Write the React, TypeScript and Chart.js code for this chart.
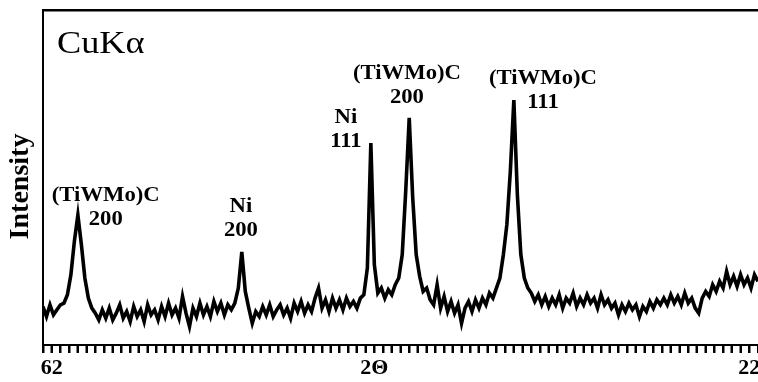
import React, { useEffect, useRef } from 'react';
import { Chart, registerables } from 'chart.js';

Chart.register(...registerables);

// 2θ axis (degrees), drawn high → low
const twoThetaMax = 62.5;
const twoThetaMin = 21.5;
const twoThetaStep = 0.2;
const xTickStep = 0.5;
const xTickValues = [62, 43.5, 22];
const xTickTexts = ['62', '2Θ', '22'];

// Intensity (arbitrary units) sampled every 0.2° starting at 62.5°
const intensity = [
  11.5, 8.5, 12, 9, 10.5, 12,
  12.5, 15, 21, 31, 38.8, 30, 20, 14, 11,
  9.5, 7.5, 10.5, 8, 11, 7.5, 9.5, 12, 8, 10,
  7, 11.5, 8.5, 10.5, 7, 12, 9, 10.5, 7.5, 11.5,
  8.5, 12.5, 9, 11, 8, 14.5, 9.5, 5.5, 11, 8.5,
  12.5, 9, 11.5, 8.5, 13, 10, 12.5, 9, 12, 10.5,
  12.5, 17, 27.8, 16, 11,
  6.5, 10, 8.5, 11.5, 9, 12, 8.5, 10.5, 12, 9,
  11, 8, 12.5, 10, 13, 9.5, 12, 10, 14, 17,
  11, 13.5, 10, 14, 11, 13.5, 10.5, 14, 11.5, 13,
  11, 14,
  15, 23, 60.3, 24, 15.5, 17, 14, 16.5, 15, 18,
  20, 27, 46, 67.8, 44, 27, 20.5, 16, 17, 13.5,
  12, 18, 11, 14.5, 10, 13, 9.5, 12, 6.5, 11,
  13, 10, 13.5, 11, 14, 12, 15.5, 14,
  17, 20, 27, 36, 52, 73.1, 45, 27, 20, 17, 15.5,
  13, 15, 12, 14.5, 11.5, 14, 12, 15, 11, 14,
  12.5, 15.5, 11.5, 14, 12, 15, 12.5, 14, 11, 15,
  12, 13.5, 11, 12.5, 9, 12, 10, 12.5, 10.5, 12,
  8.5, 11.5, 10, 13, 11, 13.5, 12, 14, 12, 15,
  12.5, 14.5, 12, 15.5, 12.5, 14, 11, 9.5, 14, 16,
  14.5, 18, 16, 19, 17, 22, 18, 20.5, 17.5, 21,
  18, 20, 17, 21, 19,
];

const yMin = 0;
const yMax = 100;
const yTitle = 'Intensity';

// Peak annotations (anchor in data units: 2θ, intensity of first line)
const peakLabelLines = [
  ['(TiWMo)C', '200'],
  ['Ni', '200'],
  ['Ni', '111'],
  ['(TiWMo)C', '200'],
  ['(TiWMo)C', '111'],
];
const peakLabelTheta = [58.9, 51.15, 45.13, 41.63, 33.83];
const peakLabelIntensity = [44.5, 41.2, 67.8, 80.9, 79.4];

const radiationLabel = 'CuKα';
const radiationTheta = 61.7;
const radiationIntensity = 87.2;

const SERIF = '"Liberation Serif", "Times New Roman", serif';

function drawStretched(
  ctx: CanvasRenderingContext2D,
  text: string,
  px: number,
  py: number,
  font: string,
  align: CanvasTextAlign,
  baseline: CanvasTextBaseline,
  sx: number,
  rot = 0
) {
  ctx.save();
  ctx.translate(px, py);
  if (rot) ctx.rotate(rot);
  ctx.scale(sx, 1);
  ctx.font = font;
  ctx.textAlign = align;
  ctx.textBaseline = baseline;
  ctx.fillStyle = '#000';
  ctx.fillText(text, 0, 0);
  ctx.restore();
}

const labelPlugin = {
  id: 'peakLabels',
  afterDraw(chart: any) {
    const { ctx, scales, chartArea } = chart;
    const xs = scales.x;
    const ys = scales.y;

    // minor tick marks hanging below the 2θ axis
    ctx.save();
    ctx.fillStyle = '#000';
    const nTicks = Math.round((twoThetaMax - twoThetaMin) / xTickStep);
    for (let k = 0; k <= nTicks; k++) {
      const px = Math.round(xs.getPixelForValue(twoThetaMin + k * xTickStep));
      ctx.fillRect(px - 1, Math.round(chartArea.bottom), 2, 8);
    }
    ctx.restore();

    // y-axis title
    drawStretched(
      ctx,
      yTitle,
      21,
      (chartArea.top + chartArea.bottom) / 2 + 9,
      `bold 28px ${SERIF}`,
      'center',
      'middle',
      1,
      -Math.PI / 2
    );

    drawStretched(
      ctx,
      radiationLabel,
      xs.getPixelForValue(radiationTheta),
      ys.getPixelForValue(radiationIntensity),
      `31px ${SERIF}`,
      'left',
      'alphabetic',
      1.17
    );
    peakLabelLines.forEach((lines, i) => {
      const px = xs.getPixelForValue(peakLabelTheta[i]);
      const py = ys.getPixelForValue(peakLabelIntensity[i]);
      lines.forEach((t, j) => {
        drawStretched(ctx, t, px, py + j * 24, `bold 21px ${SERIF}`, 'center', 'middle', 1.08);
      });
    });
  },
};

export default function App() {
  const ref = useRef<HTMLCanvasElement | null>(null);

  useEffect(() => {
    if (!ref.current) return;
    const points = intensity.map((v, i) => ({
      x: Math.round((twoThetaMax - i * twoThetaStep) * 10) / 10,
      y: v,
    }));

    const tickLabel = (v: number) => {
      const k = xTickValues.findIndex((t) => Math.abs(t - v) < 1e-6);
      return k >= 0 ? xTickTexts[k] : '';
    };

    const chart = new Chart(ref.current, {
      type: 'line',
      data: {
        datasets: [
          {
            label: yTitle,
            data: points,
            borderColor: '#000',
            borderWidth: 3.6,
            borderJoinStyle: 'miter',
            pointRadius: 0,
            tension: 0,
            fill: false,
          },
        ],
      },
      options: {
        animation: false,
        responsive: false,
        maintainAspectRatio: false,
        layout: { padding: 0 },
        plugins: { legend: { display: false }, tooltip: { enabled: false } },
        scales: {
          x: {
            type: 'linear',
            position: 'bottom',
            min: twoThetaMin,
            max: twoThetaMax,
            reverse: true,
            afterBuildTicks: (s: any) => {
              const ticks = [];
              const n = Math.round((twoThetaMax - twoThetaMin) / xTickStep);
              for (let k = 0; k <= n; k++) ticks.push({ value: twoThetaMin + k * xTickStep });
              s.ticks = ticks;
            },
            afterFit: (s: any) => {
              s.height = 37;
            },
            ticks: {
              autoSkip: false,
              maxRotation: 0,
              minRotation: 0,
              padding: 2,
              color: '#000',
              font: { family: SERIF, size: 22, weight: 'bold' },
              callback: (v: any) => tickLabel(Number(v)),
            },
            grid: {
              drawOnChartArea: false,
              drawTicks: true,
              tickLength: 8,
              tickWidth: 2,
              color: '#000',
            },
            border: { display: true, color: '#000', width: 2 },
          },
          x2: {
            type: 'linear',
            position: 'top',
            min: twoThetaMin,
            max: twoThetaMax,
            reverse: true,
            ticks: { display: false },
            grid: { display: false, drawTicks: false },
            border: { display: true, color: '#000', width: 2.5 },
            afterFit: (s: any) => {
              s.height = 10;
            },
          },
          y: {
            type: 'linear',
            min: yMin,
            max: yMax,
            ticks: { display: false },
            grid: { display: false, drawTicks: false },
            border: { display: true, color: '#000', width: 2 },
            afterFit: (s: any) => {
              s.width = 43;
            },
          },
        },
      },
      plugins: [labelPlugin],
    } as any);
    return () => chart.destroy();
  }, []);

  return (
    <div style={{ position: 'absolute', left: 0, top: 0, width: 758, height: 382, background: '#fff' }}>
      <canvas ref={ref} width={758} height={382} style={{ display: 'block', width: 758, height: 382 }} />
    </div>
  );
}
